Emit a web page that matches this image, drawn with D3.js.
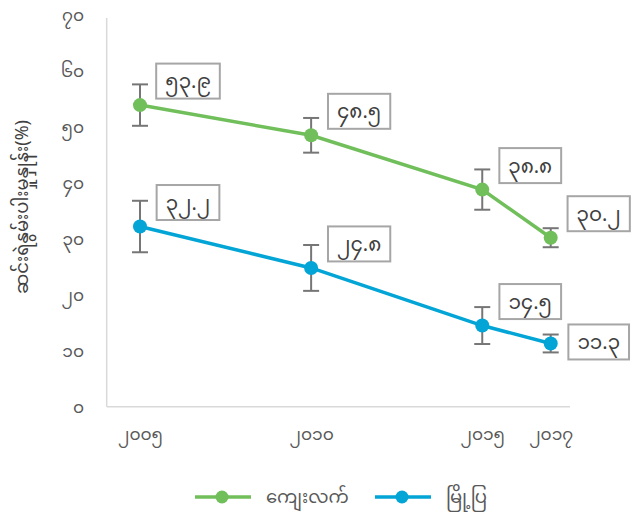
<!DOCTYPE html>
<html>
<head>
<meta charset="utf-8">
<script src="https://cdn.jsdelivr.net/npm/d3@7"></script>
<style>
  html, body { margin: 0; padding: 0; background: #fff; }
  svg { display: block; }
  text { font-family: "Noto Sans Myanmar", "Padauk", "Myanmar Text", "Noto Sans", sans-serif; }
</style>
</head>
<body>
<div id="chart"></div>
<script>
// ---- data ----
const years = [2005, 2010, 2015, 2017];
const xTickLabels = ["၂၀၀၅", "၂၀၁၀", "၂၀၁၅", "၂၀၁၇"];
const yTicks = [0, 10, 20, 30, 40, 50, 60, 70];
const yTickLabels = ["၀", "၁၀", "၂၀", "၃၀", "၄၀", "၅၀", "၆၀", "၇၀"];
const seriesNames = ["ကျေးလက်", "မြို့ပြ"];
const ruralValues = [53.9, 48.5, 38.8, 30.2];
const ruralErrors = [3.7, 3.1, 3.6, 1.7];
const urbanValues = [32.2, 24.8, 14.5, 11.3];
const urbanErrors = [4.6, 4.1, 3.3, 1.6];
const yTitle = "ဆင်းရဲနွမ်းပါးမှုနှုန်း(%)";

const colors = ["#70bf5b", "#02a5d5"];
const W = 638, H = 521;

const myDigits = "၀၁၂၃၄၅၆၇၈၉";
const toMy = s => String(s).replace(/[0-9]/g, d => myDigits[+d]);

const svg = d3.select("#chart").append("svg").attr("width", W).attr("height", H);

const x = d3.scaleLinear().domain([2005, 2017]).range([140, 550.7]);
const y = d3.scaleLinear().domain([0, 70]).range([406.7, 15]);

const plotLeft = 106.7, plotRight = 570, plotTop = 18;

// axes lines
svg.append("line").attr("x1", plotLeft).attr("x2", plotLeft).attr("y1", plotTop).attr("y2", y(0))
  .attr("stroke", "#d9d9d9").attr("stroke-width", 1.5);
svg.append("line").attr("x1", plotLeft).attr("x2", plotRight).attr("y1", y(0)).attr("y2", y(0))
  .attr("stroke", "#d9d9d9").attr("stroke-width", 1.5);

// y axis
const yAxis = d3.axisLeft(y).tickValues(yTicks).tickSize(0).tickPadding(0)
  .tickFormat((d, i) => yTickLabels[i]);
const gy = svg.append("g").attr("transform", `translate(84,0)`).call(yAxis);
gy.select(".domain").remove();
gy.selectAll("text").attr("fill", "#595959").style("font-size", "17px");

// x axis
const xAxis = d3.axisBottom(x).tickValues(years).tickSize(0).tickPadding(0)
  .tickFormat((d, i) => xTickLabels[i]);
const gx = svg.append("g").attr("transform", `translate(0,428)`).call(xAxis);
gx.select(".domain").remove();
gx.selectAll("text").attr("fill", "#595959").style("font-size", "17px");

// y title
svg.append("text").attr("transform", `translate(28,207) rotate(-90)`)
  .attr("text-anchor", "middle").attr("fill", "#404040").style("font-size", "18px")
  .text(yTitle);

const series = [
  { name: seriesNames[0], values: ruralValues, errors: ruralErrors, color: colors[0] },
  { name: seriesNames[1], values: urbanValues, errors: urbanErrors, color: colors[1] }
];

const line = d3.line().x((d, i) => x(years[i])).y(d => y(d));

series.forEach((s, si) => {
  const g = svg.append("g");
  g.append("path").datum(s.values).attr("d", line).attr("fill", "none")
    .attr("stroke", s.color).attr("stroke-width", 3.5);
  // error bars
  s.values.forEach((v, i) => {
    const cx = x(years[i]);
    const e = s.errors[i];
    const eb = g.append("g").attr("stroke", "#767676").attr("stroke-width", 2);
    eb.append("line").attr("x1", cx).attr("x2", cx).attr("y1", y(v + e)).attr("y2", y(v - e));
    eb.append("line").attr("x1", cx - 8).attr("x2", cx + 8).attr("y1", y(v + e)).attr("y2", y(v + e));
    eb.append("line").attr("x1", cx - 8).attr("x2", cx + 8).attr("y1", y(v - e)).attr("y2", y(v - e));
  });
  g.selectAll("circle").data(s.values).enter().append("circle")
    .attr("cx", (d, i) => x(years[i])).attr("cy", d => y(d)).attr("r", 7)
    .attr("fill", s.color);
  // data labels
  s.values.forEach((v, i) => {
    const lastUrban = (si === 1 && i === s.values.length - 1);
    const cx = x(years[i]) + 48;
    const cy = y(v) + (lastUrban ? -1.5 : -24);
    const lg = svg.append("g").attr("transform", `translate(${cx},${cy})`);
    const t = lg.append("text").attr("text-anchor", "middle").attr("dy", "0.35em")
      .attr("fill", "#404040").style("font-size", "20px").text(toMy(v.toFixed(1)));
    const bb = t.node().getBBox();
    const bw = Math.max(bb.width + 18, 54), bh = 35;
    lg.insert("rect", "text").attr("x", -bw / 2).attr("y", -bh / 2).attr("width", bw).attr("height", bh)
      .attr("fill", "#fff").attr("stroke", "#a6a6a6").attr("stroke-width", 2);
  });
});

// legend
const legendItems = [
  { x1: 195, name: seriesNames[0], color: colors[0] },
  { x1: 375, name: seriesNames[1], color: colors[1] }
];
const ly = 497;
legendItems.forEach(it => {
  svg.append("line").attr("x1", it.x1).attr("x2", it.x1 + 56).attr("y1", ly).attr("y2", ly)
    .attr("stroke", it.color).attr("stroke-width", 3.5);
  svg.append("circle").attr("cx", it.x1 + 27).attr("cy", ly).attr("r", 6.5).attr("fill", it.color);
  svg.append("text").attr("x", it.x1 + 71).attr("y", ly).attr("dy", "0.35em")
    .attr("fill", "#595959").style("font-size", "18px").text(it.name);
});
</script>
</body>
</html>
